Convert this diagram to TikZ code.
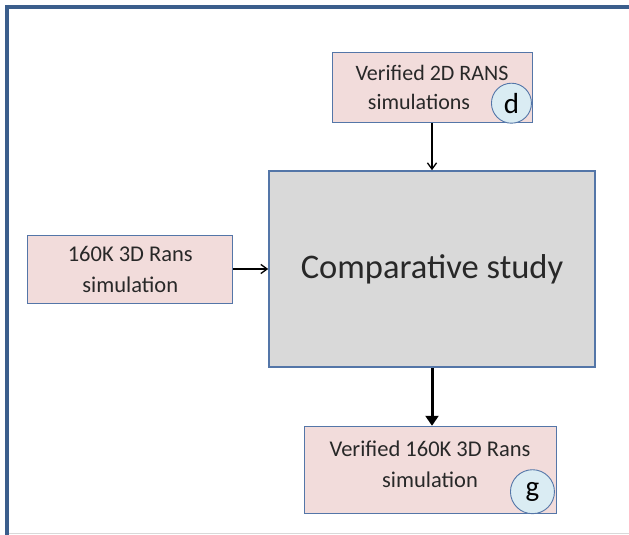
\documentclass[tikz,border=0pt]{standalone}
\usepackage{fontspec}
\setmainfont{Carlito}
\usetikzlibrary{arrows.meta,positioning,calc}
\definecolor{frameblue}{RGB}{59,94,140}
\definecolor{edgeblue}{RGB}{84,118,168}
\definecolor{boxpink}{RGB}{242,220,219}
\definecolor{boxgray}{RGB}{217,217,217}
\definecolor{tagblue}{RGB}{218,236,243}
\definecolor{textgray}{RGB}{40,40,40}

\begin{document}
\begin{tikzpicture}[
    x=1pt, y=-1pt,
    node distance=47pt,
    >={Stealth[length=2mm]},
    stage/.style={rectangle, draw=edgeblue, fill=boxpink, line width=0.9pt,
                  font=\fontsize{22.5}{31}\selectfont, text=textgray, align=center},
    tag/.style={circle, draw=edgeblue, fill=tagblue, line width=0.9pt,
                inner sep=0pt, font=\fontsize{29}{29}\selectfont},
    arrow/.style={-{Straight Barb[length=2.2mm,width=3.2mm]}, line width=1.3pt}
]
\useasboundingbox (0,0) rectangle (629,535);
% Frame
\draw[frameblue, line width=4pt] (5,7) -- (629,7);
\draw[frameblue, line width=4pt] (7,5) -- (7,535);
\draw[gray!30, line width=1pt] (9,533) -- (629,533);

% Flow
\node[rectangle, draw=edgeblue, fill=boxgray, line width=1.6pt,
      minimum width=326pt, minimum height=196pt,
      font=\fontsize{34.5}{34.5}\selectfont, text=textgray] (study) at (432,269) {Comparative study};
\node[stage, minimum width=200pt, minimum height=70pt, inner sep=1pt, above=47pt of study,
      font=\fontsize{22}{29}\selectfont] (rans2d) {Verified 2D RANS\\simulations\hspace*{26pt}};
\node[stage, minimum width=205pt, minimum height=68pt, left=35pt of study] (rans3d) {160K 3D Rans\\simulation};
\node[stage, minimum width=252pt, minimum height=87pt, inner sep=2pt, below=58pt of study, xshift=-2pt] (verified) {Verified 160K 3D Rans\\simulation\rule[-12pt]{0pt}{1pt}};

\node[tag, minimum size=40pt] (d) at ($(rans2d.south east)+(-21,-20)$) {d};
\node[tag, minimum size=44pt] (g) at ($(verified.south east)+(-24,-22)$) {g};

\draw[arrow] (rans2d.south -| study) -- (study.north);
\draw[arrow] (rans3d) -- (rans3d -| study.west);
\draw[-{Triangle[length=3.5mm,width=4.5mm]}, line width=3pt] (study.south) -- (study.south |- verified.north);
\end{tikzpicture}
\end{document}
